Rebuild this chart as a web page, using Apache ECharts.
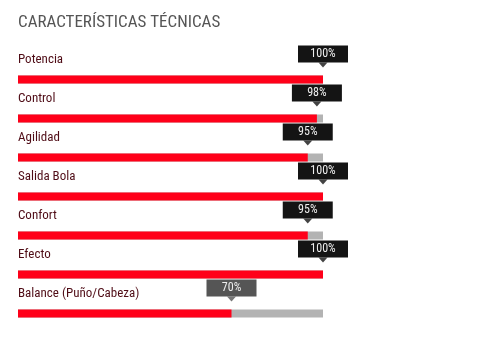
<!DOCTYPE html>
<html>
<head>
<meta charset="utf-8">
<script src="https://cdn.jsdelivr.net/npm/echarts@6/dist/echarts.min.js"></script>
<style>
  html, body { margin: 0; padding: 0; background: #fff; }
  #chart { width: 503px; height: 352px; }
</style>
</head>
<body>
<div id="chart"></div>
<script>
var categories = ['Potencia', 'Control', 'Agilidad', 'Salida Bola', 'Confort', 'Efecto', 'Balance (Puño/Cabeza)'];
var values = [100, 98, 95, 100, 95, 100, 70];

var narrow = "'Roboto Condensed', 'DejaVu Sans Condensed', sans-serif";
var chartDom = document.getElementById('chart');
var myChart = echarts.init(chartDom);

var option = {
  animation: false,
  title: {
    text: 'CARACTERÍSTICAS TÉCNICAS',
    left: 18,
    top: 14,
    padding: 0,
    textStyle: { color: '#555', fontSize: 17, fontWeight: 'normal', fontFamily: narrow }
  },
  grid: { left: 18, right: 180, top: 60, bottom: 19 },
  xAxis: { type: 'value', min: 0, max: 100, show: false },
  yAxis: { type: 'category', data: categories, inverse: true, show: false },
  series: [
    {
      // red bars + category names
      type: 'bar',
      data: values,
      barWidth: 8,
      itemStyle: { color: '#ff0019' },
      showBackground: true,
      backgroundStyle: { color: '#b3b3b3' },
      label: {
        show: true,
        position: [0, -15.5],
        align: 'left',
        verticalAlign: 'middle',
        formatter: '{b}',
        color: '#4f0c16',
        fontSize: 13,
        fontFamily: narrow
      },
      z: 2
    },
    {
      // percent boxes
      type: 'bar',
      data: values.map(function (v) {
        return {
          value: v,
          label: { backgroundColor: v < 80 ? '#555555' : '#141414' }
        };
      }),
      barWidth: 8,
      barGap: '-100%',
      itemStyle: { color: 'rgba(0,0,0,0)' },
      label: {
        show: true,
        position: ['100%', -21.5],
        align: 'center',
        verticalAlign: 'middle',
        formatter: '{c}%',
        color: '#eee',
        fontSize: 12,
        fontFamily: narrow,
        width: 50,
        height: 17,
        lineHeight: 17,
        padding: 0
      },
      z: 3
    },
    {
      // arrow under each box
      type: 'scatter',
      data: values.map(function (v, i) {
        return {
          value: [v, categories[i]],
          itemStyle: { color: v < 80 ? '#555555' : '#141414' }
        };
      }),
      symbol: 'triangle',
      symbolRotate: 180,
      symbolSize: [9, 5],
      symbolOffset: [0, -14.5],
      z: 4
    }
  ]
};

option && myChart.setOption(option);
</script>
</body>
</html>
